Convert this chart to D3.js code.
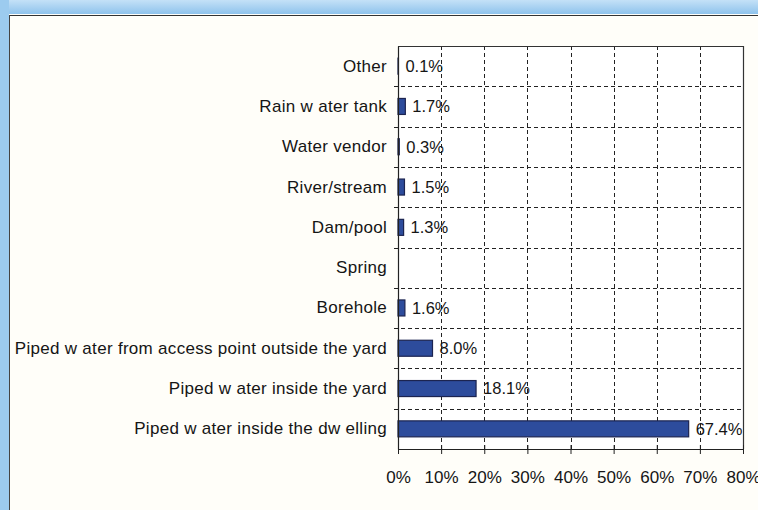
<!DOCTYPE html>
<html>
<head>
<meta charset="utf-8">
<script src="https://cdn.jsdelivr.net/npm/d3@7"></script>
<style>
  html, body { margin: 0; padding: 0; background: #ffffff; }
  svg { display: block; }
  text { font-family: "Liberation Sans", Arial, sans-serif; fill: #151515; }
</style>
</head>
<body>
<svg id="chart" width="758" height="510"></svg>
<script>
// Main source of drinking water (share of households)
const categories = [
  "Other",
  "Rain w ater tank",
  "Water vendor",
  "River/stream",
  "Dam/pool",
  "Spring",
  "Borehole",
  "Piped w ater from access point outside the yard",
  "Piped w ater inside the yard",
  "Piped w ater inside the dw elling"
];
const values = [0.1, 1.7, 0.3, 1.5, 1.3, null, 1.6, 8.0, 18.1, 67.4];
const tickValues = [0, 10, 20, 30, 40, 50, 60, 70, 80];

const svg = d3.select("#chart");
const W = 758, H = 510;
const FONT = '"Liberation Sans", Arial, sans-serif';

// window frame: blue strip on the top and left edges
const defs = svg.append("defs");
const topGrad = defs.append("linearGradient").attr("id", "topGrad")
  .attr("x1", 0).attr("y1", 0).attr("x2", 0).attr("y2", 1);
topGrad.append("stop").attr("offset", "0%").attr("stop-color", "#c4e1f7");
topGrad.append("stop").attr("offset", "100%").attr("stop-color", "#8fc3ec");
svg.append("rect").attr("x", 0).attr("y", 0).attr("width", W).attr("height", 14)
  .attr("fill", "url(#topGrad)");
svg.append("rect").attr("x", 0).attr("y", 0).attr("width", 9).attr("height", H)
  .attr("fill", "#9ccbef");

// chart sheet
svg.append("rect").attr("x", 9).attr("y", 14).attr("width", W - 9).attr("height", H - 14)
  .attr("fill", "#fffef9");
svg.append("line").attr("x1", 9.5).attr("x2", W).attr("y1", 15.5).attr("y2", 15.5)
  .attr("stroke", "#333").attr("stroke-width", 1);
svg.append("line").attr("x1", 9.5).attr("x2", 9.5).attr("y1", 15).attr("y2", H)
  .attr("stroke", "#444").attr("stroke-width", 1);

const plot = { left: 398, right: 743, top: 46, bottom: 449 };

const x = d3.scaleLinear().domain([0, 80]).range([plot.left, plot.right]);
const y = d3.scaleBand().domain(categories).range([plot.top, plot.bottom]).paddingInner(0).paddingOuter(0);

const g = svg.append("g");

// plot background
g.append("rect").attr("x", plot.left).attr("y", plot.top)
  .attr("width", plot.right - plot.left).attr("height", plot.bottom - plot.top)
  .attr("fill", "#ffffff");

// vertical dashed gridlines
g.selectAll("line.vgrid").data(tickValues.slice(1, -1)).join("line")
  .attr("class", "vgrid")
  .attr("x1", d => Math.round(x(d)) + 0.5).attr("x2", d => Math.round(x(d)) + 0.5)
  .attr("y1", plot.top).attr("y2", plot.bottom)
  .attr("stroke", "#222").attr("stroke-width", 1).attr("stroke-dasharray", "4,3");

// horizontal dashed lines between categories
g.selectAll("line.hgrid").data(categories.slice(1)).join("line")
  .attr("class", "hgrid")
  .attr("x1", plot.left - 4).attr("x2", plot.right)
  .attr("y1", d => Math.round(y(d)) + 0.5).attr("y2", d => Math.round(y(d)) + 0.5)
  .attr("stroke", "#222").attr("stroke-width", 1).attr("stroke-dasharray", "4,3");

// plot frame (top and right)
g.append("line").attr("x1", plot.left).attr("x2", plot.right)
  .attr("y1", plot.top + 0.5).attr("y2", plot.top + 0.5)
  .attr("stroke", "#333").attr("stroke-width", 1.2);
g.append("line").attr("x1", plot.right + 0.5).attr("x2", plot.right + 0.5)
  .attr("y1", plot.top).attr("y2", plot.bottom)
  .attr("stroke", "#333").attr("stroke-width", 1.2);

// bars
const barH = 16;
const rows = categories.map((c, i) => ({ cat: c, v: values[i] }));
g.selectAll("rect.bar").data(rows.filter(d => d.v != null)).join("rect")
  .attr("class", "bar")
  .attr("x", x(0))
  .attr("y", d => y(d.cat) + y.bandwidth() / 2 - barH / 2)
  .attr("width", d => Math.max(0, x(d.v) - x(0)))
  .attr("height", barH)
  .attr("fill", "#2d4c9c")
  .attr("stroke", "#1c2450")
  .attr("stroke-width", 1.2);

// value labels
g.selectAll("text.val").data(rows.filter(d => d.v != null)).join("text")
  .attr("class", "val")
  .attr("x", d => x(d.v) + 7)
  .attr("y", d => y(d.cat) + y.bandwidth() / 2)
  .attr("dy", "0.36em")
  .attr("font-size", 16.5)
  .text(d => d.v.toFixed(1) + "%");

// category axis
const yAxis = d3.axisLeft(y).tickSize(0).tickPadding(11);
const ya = svg.append("g").attr("transform", `translate(${plot.left},0)`).call(yAxis);
ya.select(".domain").attr("stroke", "#222").attr("stroke-width", 1.2);
ya.selectAll("text").attr("font-size", 17).attr("fill", "#151515")
  .attr("letter-spacing", 0.3)
  .style("font-family", FONT);

// value axis
const xAxis = d3.axisBottom(x).tickValues(tickValues).tickFormat(d => d + "%")
  .tickSizeInner(5).tickSizeOuter(0).tickPadding(17);
const xa = svg.append("g").attr("transform", `translate(0,${plot.bottom})`).call(xAxis);
xa.select(".domain").attr("stroke", "#222").attr("stroke-width", 1.2);
xa.selectAll(".tick line").attr("stroke", "#222").attr("y1", -4);
xa.selectAll("text").attr("font-size", 17).attr("fill", "#151515")
  .style("font-family", FONT);
</script>
</body>
</html>
